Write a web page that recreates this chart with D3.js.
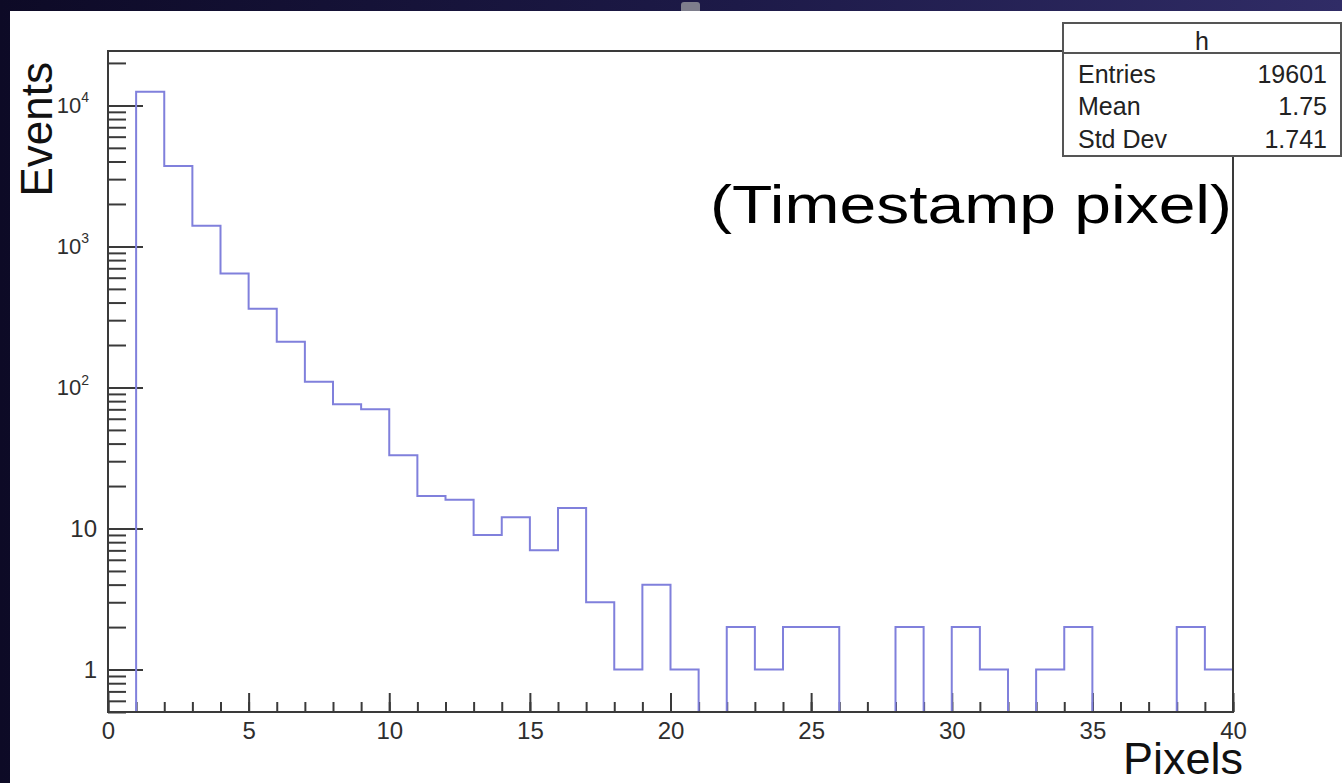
<!DOCTYPE html>
<html>
<head>
<meta charset="utf-8">
<script src="https://cdn.jsdelivr.net/npm/d3@7"></script>
<style>
  html, body { margin: 0; padding: 0; background: #0e0b28; }
  svg { display: block; }
  text { font-family: "Liberation Sans", Arial, Helvetica, sans-serif; }
</style>
</head>
<body>
<svg id="chart" width="1342" height="783"></svg>
<script>
// Histogram "h": number of timestamp pixels per event, 1-unit bins from 0 to 40
const binLowEdges = d3.range(0, 40);
const binCounts = [0, 12480, 3710, 1400, 644, 361, 211, 110, 76, 70,
                   33, 17, 16, 9, 12, 7, 14, 3, 1, 4,
                   1, 0, 2, 1, 2, 2, 0, 0, 2, 0,
                   2, 1, 0, 1, 2, 0, 0, 0, 2, 1];
const xMajorTicks = [0, 5, 10, 15, 20, 25, 30, 35, 40];
const yDecadeTicks = [1, 10, 100, 1000, 10000];
const statLabels = ["Entries", "Mean", "Std Dev"];
const statValues = ["19601", "1.75", "1.741"];
const histName = "h";
const xTitle = "Pixels";
const yTitle = "Events";
const note = "(Timestamp pixel)";

const W = 1342, H = 783;
const frame = { left: 108, right: 1233, top: 51, bottom: 712 };
const yMin = 0.5, yMax = 24300;

const svg = d3.select("#chart");

// slide background and white canvas
const defs = svg.append("defs");
const grad = defs.append("linearGradient").attr("id", "slideBg")
  .attr("x1", 0).attr("y1", 0).attr("x2", 1).attr("y2", 0);
grad.append("stop").attr("offset", "0%").attr("stop-color", "#0d0a26");
grad.append("stop").attr("offset", "55%").attr("stop-color", "#1d1a48");
grad.append("stop").attr("offset", "100%").attr("stop-color", "#302c66");
svg.append("rect").attr("width", W).attr("height", H).attr("fill", "url(#slideBg)");
svg.append("rect").attr("x", 681).attr("y", 2).attr("width", 19).attr("height", 12)
  .attr("rx", 3).attr("fill", "#7e7e8c");
svg.append("rect").attr("x", 10).attr("y", 11).attr("width", W - 10).attr("height", H - 11)
  .attr("fill", "#ffffff");

defs.append("clipPath").attr("id", "frameClip").append("rect")
  .attr("x", frame.left).attr("y", frame.top)
  .attr("width", frame.right - frame.left).attr("height", frame.bottom - frame.top);

const x = d3.scaleLinear().domain([0, 40]).range([frame.left, frame.right]);
const y = d3.scaleLog().domain([yMin, yMax]).range([frame.bottom, frame.top]);

const axisColor = "#3a3a3a";
const labelColor = "#2e2e2e";

// x axis: minor ticks every unit, major every 5
const xMinor = svg.append("g").attr("transform", `translate(0,${frame.bottom})`)
  .call(d3.axisBottom(x).tickValues(d3.range(0, 41)).tickSizeInner(-10).tickSizeOuter(0).tickFormat(""));
const xMajor = svg.append("g").attr("transform", `translate(0,${frame.bottom})`)
  .call(d3.axisBottom(x).tickValues(xMajorTicks).tickSizeInner(-19).tickSizeOuter(0).tickPadding(10));
[xMinor, xMajor].forEach(g => {
  g.select(".domain").remove();
  g.selectAll("line").attr("stroke", axisColor).attr("stroke-width", 2);
});
xMajor.selectAll("text").attr("font-size", 24).attr("fill", labelColor)
  .attr("font-family", "Liberation Sans, Arial, sans-serif");

// y axis: log scale with 2..9 minor ticks per decade
const yMinorVals = [];
[-1, 0, 1, 2, 3, 4].forEach(p => {
  for (let m = 2; m <= 9; m++) {
    const v = m * Math.pow(10, p);
    if (v >= yMin && v <= yMax) yMinorVals.push(v);
  }
});
const yMinor = svg.append("g").attr("transform", `translate(${frame.left},0)`)
  .call(d3.axisLeft(y).tickValues(yMinorVals).tickSizeInner(-18).tickSizeOuter(0).tickFormat(""));
const yMajor = svg.append("g").attr("transform", `translate(${frame.left},0)`)
  .call(d3.axisLeft(y).tickValues(yDecadeTicks).tickSizeInner(-35).tickSizeOuter(0).tickPadding(11));
[yMinor, yMajor].forEach(g => {
  g.select(".domain").remove();
  g.selectAll("line").attr("stroke", axisColor).attr("stroke-width", 2);
});
yMajor.selectAll(".tick text").each(function(d) {
  const t = d3.select(this).text("").attr("fill", labelColor)
    .attr("font-family", "Liberation Sans, Arial, sans-serif");
  const p = Math.round(Math.log10(d));
  if (p < 2) {
    t.attr("font-size", 24).text(String(d));
  } else {
    t.attr("x", -19).attr("font-size", 22);
    t.append("tspan").text("10");
    t.append("tspan").attr("font-size", 14).attr("dy", "-0.75em").text(String(p));
  }
});

// histogram outline drawn as a step line
const pts = binLowEdges.map((e, i) => [e, Math.max(binCounts[i], yMin)]);
pts.push([40, Math.max(binCounts[binCounts.length - 1], yMin)]);
const step = d3.line().x(d => x(d[0])).y(d => y(d[1])).curve(d3.curveStepAfter);
svg.append("path").attr("clip-path", "url(#frameClip)")
  .attr("d", step(pts)).attr("fill", "none")
  .attr("stroke", "#8080dc").attr("stroke-width", 2);

// frame
svg.append("rect").attr("x", frame.left).attr("y", frame.top)
  .attr("width", frame.right - frame.left).attr("height", frame.bottom - frame.top)
  .attr("fill", "none").attr("stroke", axisColor).attr("stroke-width", 2);

// axis titles
svg.append("text").attr("x", 1243).attr("y", 774).attr("text-anchor", "end")
  .attr("font-size", 45).attr("fill", "#111").text(xTitle);
svg.append("text").attr("transform", "translate(52,62) rotate(-90)")
  .attr("text-anchor", "end").attr("font-size", 44).attr("fill", "#111").text(yTitle);

// annotation
svg.append("text").attr("x", 710).attr("y", 223)
  .attr("font-family", "Noto Sans, sans-serif").attr("font-size", 53)
  .attr("textLength", 522).attr("lengthAdjust", "spacingAndGlyphs")
  .attr("fill", "#000").text(note);

// statistics box
const box = { x: 1063, y: 23, w: 278, h: 133, head: 30 };
const sb = svg.append("g");
sb.append("rect").attr("x", box.x).attr("y", box.y).attr("width", box.w).attr("height", box.h)
  .attr("fill", "#fff").attr("stroke", "#555").attr("stroke-width", 2);
sb.append("line").attr("x1", box.x).attr("x2", box.x + box.w)
  .attr("y1", box.y + box.head).attr("y2", box.y + box.head)
  .attr("stroke", "#555").attr("stroke-width", 2);
sb.append("text").attr("x", box.x + box.w / 2).attr("y", 50).attr("text-anchor", "middle")
  .attr("font-size", 25).attr("fill", "#222").text(histName);
const rowY = [83, 115, 148];
statLabels.forEach((lab, i) => {
  sb.append("text").attr("x", 1078).attr("y", rowY[i]).attr("font-size", 25)
    .attr("fill", "#222").text(lab);
  sb.append("text").attr("x", 1327).attr("y", rowY[i]).attr("text-anchor", "end")
    .attr("font-size", 25).attr("fill", "#222").text(statValues[i]);
});
</script>
</body>
</html>
